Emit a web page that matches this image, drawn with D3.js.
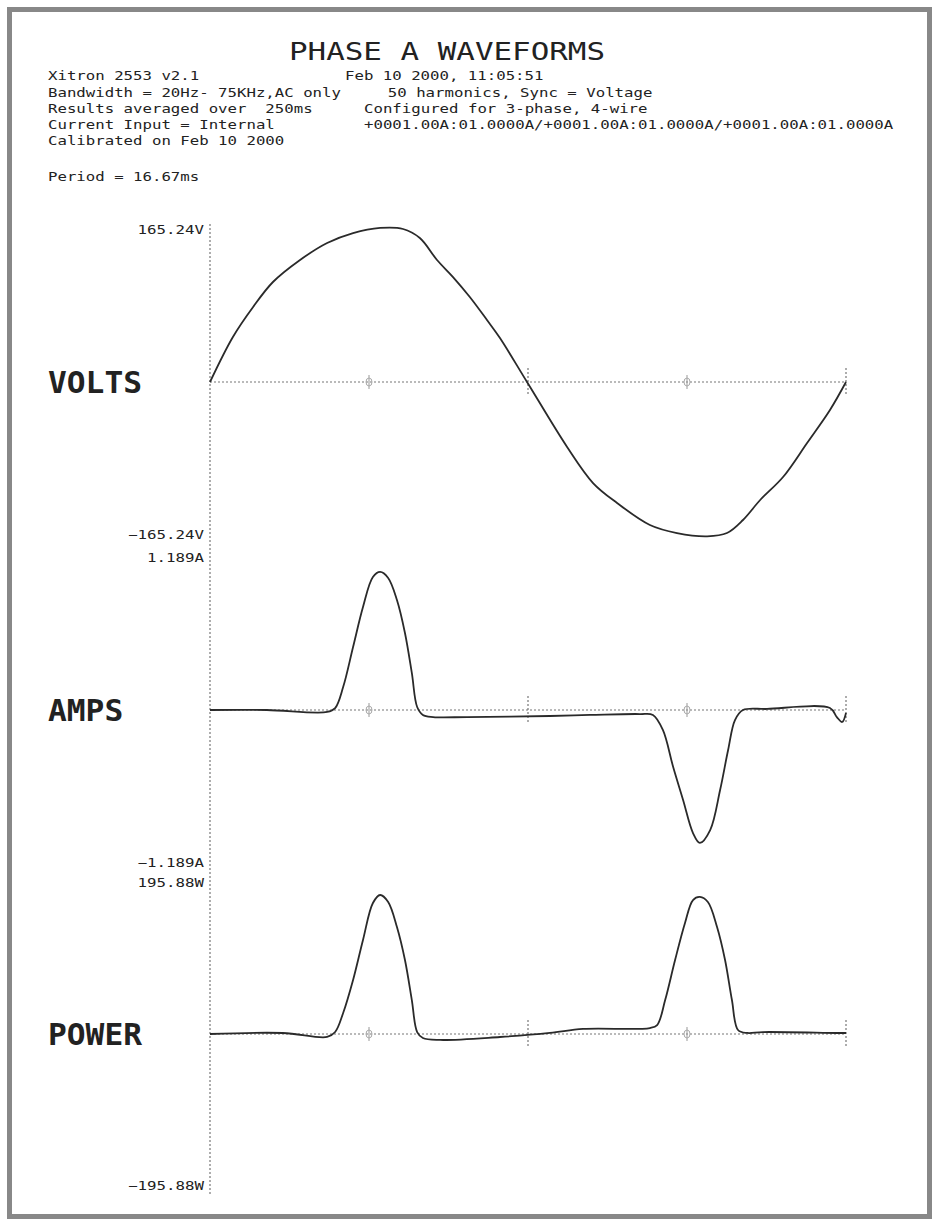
<!DOCTYPE html>
<html>
<head>
<meta charset="utf-8">
<script src="https://cdn.jsdelivr.net/npm/d3@7"></script>
<style>
  body { margin: 0; background: #fff; }
  svg text { font-family: "DejaVu Sans Mono", monospace; fill: #222; }
</style>
</head>
<body>
<svg id="viz"></svg>
<script>
// header text, left and right columns
var title = "PHASE A WAVEFORMS";
var leftInfo = ["Xitron 2553 v2.1", "Bandwidth = 20Hz- 75KHz,AC only", "Results averaged over  250ms",
  "Current Input = Internal", "Calibrated on Feb 10 2000"];
var rightInfo = ["Feb 10 2000, 11:05:51", "    50 harmonics, Sync = Voltage", "Configured for 3-phase, 4-wire",
  "+0001.00A:01.0000A/+0001.00A:01.0000A/+0001.00A:01.0000A"];
var periodText = "Period = 16.67ms";
var periodMs = 16.67;

// channel names and full scale
var channels = ["VOLTS", "AMPS", "POWER"];
var fullScale = [165.24, 1.189, 195.88];
var units = ["V", "A", "W"];
var scaleFmt = [".2f", ".3f", ".2f"];

// volts waveform (ms, V)
var voltsT = [0, 0.60, 1.13, 1.65, 2.36, 3.07, 3.75, 4.46, 5.06, 5.50, 5.95, 6.37, 6.81, 7.26, 7.60, 8.31,
  9.36, 10.04, 10.67, 11.53, 12.24, 13.03, 13.55, 13.97, 14.42, 15.02, 15.65, 16.25, 16.67];
var voltsV = [0, 48.0, 80.0, 106.6, 130.1, 148.2, 158.8, 164.2, 163.1, 153.5, 130.1, 111.9, 90.6, 66.1, 46.9, 0,
  -69.3, -107.7, -129.0, -152.4, -161.0, -164.5, -161.0, -147.1, -125.8, -101.3, -65.0, -29.8, 0];

// current waveform (ms, A)
var ampsT = [0, 1.49, 3.07, 3.28, 3.49, 3.75, 4.01, 4.27, 4.46, 4.67, 4.90, 5.11, 5.29, 5.43, 5.58, 5.85, 6.74,
  8.91, 9.96, 11.27, 11.61, 11.87, 12.14, 12.40, 12.66, 12.84, 13.11, 13.37, 13.58, 13.76, 13.97, 14.60,
  16.25, 16.43, 16.57, 16.67];
var ampsA = [0, 0, -0.015, 0.015, 0.176, 0.483, 0.790, 1.020, 1.059, 1.013, 0.844, 0.591, 0.284, 0.023, -0.038,
  -0.054, -0.054, -0.046, -0.038, -0.031, -0.038, -0.153, -0.437, -0.690, -0.944, -1.020, -0.921, -0.614,
  -0.307, -0.077, 0, 0.008, 0.015, -0.054, -0.092, -0.023];

// power waveform (ms, W)
var powerT = [0, 1.91, 3.07, 3.28, 3.49, 3.75, 4.01, 4.27, 4.46, 4.67, 4.90, 5.11, 5.29, 5.43, 5.58, 6.03, 7.60,
  8.91, 9.78, 11.53, 11.72, 11.93, 12.19, 12.45, 12.66, 12.84, 13.05, 13.29, 13.50, 13.68, 13.84, 14.08,
  14.49, 16.43, 16.67];
var powerW = [0, 1.3, -3.8, 2.5, 26.7, 68.7, 119.6, 166.6, 176.8, 167.9, 136.1, 94.1, 43.2, 2.5, -5.1, -7.6, -3.8,
  1.3, 6.4, 7.6, 11.4, 43.2, 94.1, 141.2, 170.4, 174.3, 167.9, 136.1, 94.1, 43.2, 5.1, 1.3,
  2.5, 1.3, 1.3];

var series = [
  d3.zip(voltsT, voltsV),
  d3.zip(ampsT, ampsA),
  d3.zip(powerT, powerW)
];

var width = 934, height = 1223;
var svg = d3.select("#viz").attr("width", width).attr("height", height);

// frame
svg.append("rect")
  .attr("x", 9.5).attr("y", 9.5)
  .attr("width", 920).attr("height", 1207)
  .attr("fill", "none")
  .attr("stroke", "#888")
  .attr("stroke-width", 5);

// header
svg.append("text")
  .attr("x", 289).attr("y", 60)
  .attr("textLength", 316).attr("lengthAdjust", "spacingAndGlyphs")
  .style("font-size", "25px")
  .text(title);

var charW = 9.45;
var rowY = [80, 97, 113, 129, 145];
svg.selectAll(".left-info").data(leftInfo).enter().append("text")
  .attr("class", "left-info")
  .attr("x", 48)
  .attr("y", function (d, i) { return rowY[i]; })
  .attr("textLength", function (d) { return d.length * charW; })
  .attr("lengthAdjust", "spacingAndGlyphs")
  .style("font-size", "12.5px")
  .style("white-space", "pre")
  .text(function (d) { return d; });

var rightX = [345, 350, 364, 364];
svg.selectAll(".right-info").data(rightInfo).enter().append("text")
  .attr("class", "right-info")
  .attr("x", function (d, i) { return rightX[i]; })
  .attr("y", function (d, i) { return rowY[i]; })
  .attr("textLength", function (d) { return d.length * charW; })
  .attr("lengthAdjust", "spacingAndGlyphs")
  .style("font-size", "12.5px")
  .style("white-space", "pre")
  .text(function (d) { return d; });

svg.append("text")
  .attr("x", 48).attr("y", 181)
  .attr("textLength", periodText.length * charW)
  .attr("lengthAdjust", "spacingAndGlyphs")
  .style("font-size", "12.5px")
  .text(periodText);

// time scale, shared by all panels
var x = d3.scaleLinear().domain([0, periodMs]).range([210, 846]);

// one panel per channel
var panelRange = [[537, 227], [865, 555], [1188, 880]];
var yScales = channels.map(function (c, i) {
  return d3.scaleLinear().domain([-fullScale[i], fullScale[i]]).range(panelRange[i]);
});

// full-length dotted vertical axis
svg.append("line")
  .attr("x1", x(0)).attr("x2", x(0))
  .attr("y1", 224).attr("y2", 1194)
  .attr("stroke", "#777")
  .attr("stroke-width", 1.2)
  .attr("stroke-dasharray", "2,2");

var line = d3.line()
  .x(function (d) { return x(d[0]); })
  .curve(d3.curveCatmullRom.alpha(0.5));

channels.forEach(function (name, i) {
  var y = yScales[i];
  var g = svg.append("g").attr("class", "panel");

  // full scale labels via axis
  var axis = d3.axisLeft(y)
    .tickValues([-fullScale[i], fullScale[i]])
    .tickSize(0)
    .tickPadding(6)
    .tickFormat(function (d) { return d3.format(scaleFmt[i])(d) + units[i]; });
  var ax = g.append("g")
    .attr("transform", "translate(" + x(0) + ",0)")
    .call(axis);
  ax.select(".domain").remove();
  ax.selectAll("text")
    .style("font-family", "'DejaVu Sans Mono', monospace")
    .style("font-size", "12px")
    .attr("fill", "#222")
    .attr("textLength", function (d) { return (d3.format(scaleFmt[i])(d) + units[i]).length * 9.5; })
    .attr("lengthAdjust", "spacingAndGlyphs")
    .attr("dy", function (d) { return d > 0 ? "0.55em" : "0.1em"; });

  // channel name
  g.append("text")
    .attr("x", 48)
    .attr("y", y(0) + 11)
    .attr("textLength", name.length * 18.8)
    .attr("lengthAdjust", "spacingAndGlyphs")
    .style("font-size", "30px")
    .style("font-weight", "bold")
    .text(name);

  // zero line
  g.append("line")
    .attr("x1", x(0)).attr("x2", x(periodMs))
    .attr("y1", y(0)).attr("y2", y(0))
    .attr("stroke", "#777")
    .attr("stroke-width", 1.2)
    .attr("stroke-dasharray", "2,2");

  // quarter period markers
  [periodMs / 4, periodMs * 3 / 4].forEach(function (t) {
    g.append("line")
      .attr("x1", x(t)).attr("x2", x(t))
      .attr("y1", y(0) - 7).attr("y2", y(0) + 7)
      .attr("stroke", "#999").attr("stroke-width", 1);
    g.append("ellipse")
      .attr("cx", x(t)).attr("cy", y(0))
      .attr("rx", 3).attr("ry", 4)
      .attr("fill", "none").attr("stroke", "#aaa").attr("stroke-width", 1);
  });
  [periodMs / 2, periodMs].forEach(function (t) {
    g.append("line")
      .attr("x1", x(t)).attr("x2", x(t))
      .attr("y1", y(0) - 14).attr("y2", y(0) + 14)
      .attr("stroke", "#777").attr("stroke-width", 1.2)
      .attr("stroke-dasharray", "2,2");
  });

  // waveform
  g.append("path")
    .datum(series[i])
    .attr("fill", "none")
    .attr("stroke", "#2a2a2a")
    .attr("stroke-width", 1.8)
    .attr("stroke-linejoin", "round")
    .attr("d", line.y(function (d) { return y(d[1]); }));
});
</script>
</body>
</html>
